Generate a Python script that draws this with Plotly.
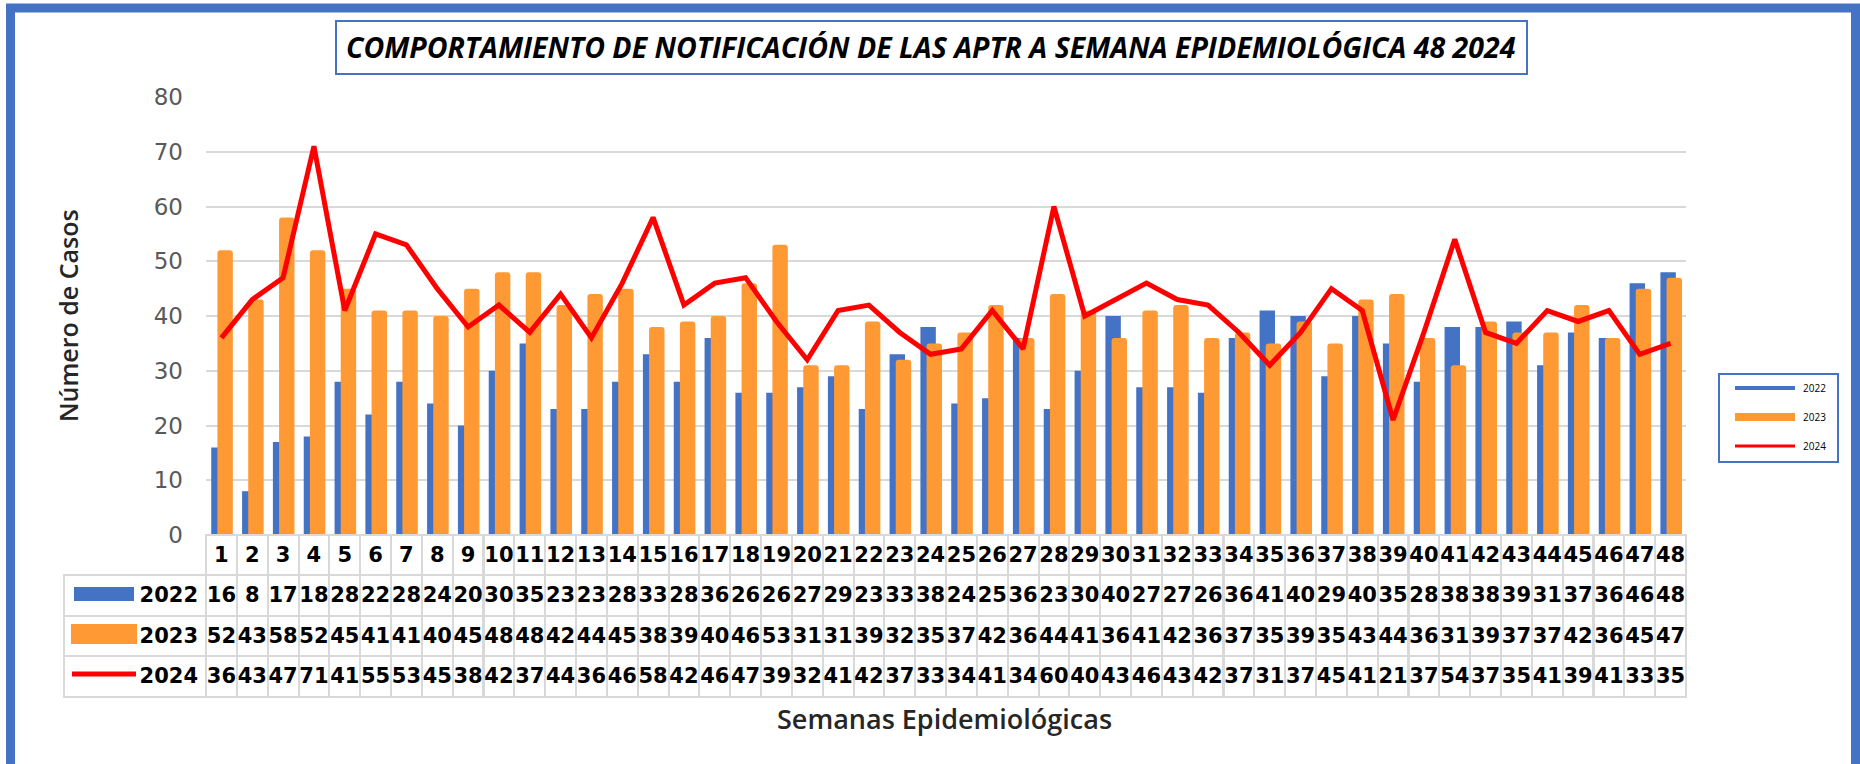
import plotly.graph_objects as go

weeks = list(range(1, 49))
cases_2022 = [16, 8, 17, 18, 28, 22, 28, 24, 20, 30, 35, 23, 23, 28, 33, 28, 36, 26, 26, 27,
              29, 23, 33, 38, 24, 25, 36, 23, 30, 40, 27, 27, 26, 36, 41, 40, 29, 40, 35, 28,
              38, 38, 39, 31, 37, 36, 46, 48]
cases_2023 = [52, 43, 58, 52, 45, 41, 41, 40, 45, 48, 48, 42, 44, 45, 38, 39, 40, 46, 53, 31,
              31, 39, 32, 35, 37, 42, 36, 44, 41, 36, 41, 42, 36, 37, 35, 39, 35, 43, 44, 36,
              31, 39, 37, 37, 42, 36, 45, 47]
cases_2024 = [36, 43, 47, 71, 41, 55, 53, 45, 38, 42, 37, 44, 36, 46, 58, 42, 46, 47, 39, 32,
              41, 42, 37, 33, 34, 41, 34, 60, 40, 43, 46, 43, 42, 37, 31, 37, 45, 41, 21, 37,
              54, 37, 35, 41, 39, 41, 33, 35]
series_names = ["2022", "2023", "2024"]
title_text = "COMPORTAMIENTO DE NOTIFICACIÓN DE LAS APTR A SEMANA EPIDEMIOLÓGICA 48 2024"
y_title = "Número de Casos"
x_title = "Semanas Epidemiológicas"

W, H = 1860, 764
BLUE = "#4472C4"
ORANGE = "#FF9933"
RED = "#FF0000"
GRID = "#D9D9D9"
CLEAR = "rgba(0,0,0,0)"


def px(x):
    return x / W


def py(y):
    return 1 - y / H


PL, PR = 206, 1686          # plot area x (pixels)
PT, PB = 97, 535            # y=80 and y=0 (pixels)
TL, TB = 64, 695            # table left / bottom

fig = go.Figure()

fig.add_trace(go.Bar(x=weeks, y=cases_2022, name=series_names[0], marker=dict(color=BLUE, line=dict(width=0)),
                     width=0.5, offset=-0.33, showlegend=False))
fig.add_trace(go.Bar(x=weeks, y=cases_2023, name=series_names[1],
                     marker=dict(color=ORANGE, line=dict(width=0), cornerradius=3),
                     width=0.5, offset=-0.13, showlegend=False))
fig.add_trace(go.Scatter(x=weeks, y=cases_2024, name=series_names[2], mode="lines",
                         line=dict(color=RED, width=5), showlegend=False))

# data table below the chart
ncol = len(weeks)
colw = (PR - PL) / ncol
header_vals = [""] + [f"<b>{w}</b>" for w in weeks]
cell_vals = [[f"<b>{n}</b>" for n in series_names]]
for i in range(ncol):
    cell_vals.append([f"<b>{cases_2022[i]}</b>", f"<b>{cases_2023[i]}</b>", f"<b>{cases_2024[i]}</b>"])

fig.add_trace(go.Table(
    domain=dict(x=[px(TL), px(PR)], y=[py(TB + 4), py(PB)]),
    columnwidth=[PL - TL] + [colw] * ncol,
    header=dict(values=header_vals, height=38,
                fill=dict(color=[CLEAR] + ["white"] * ncol),
                line=dict(color=[CLEAR] + [GRID] * ncol, width=2),
                align=["right"] + ["center"] * ncol,
                font=dict(family="DejaVu Sans", size=21, color="black")),
    cells=dict(values=cell_vals, height=40.5,
               fill=dict(color="white"),
               line=dict(color=GRID, width=2),
               align=["right"] + ["center"] * ncol,
               font=dict(family="DejaVu Sans", size=21, color="black")),
))

shapes = []
# outer frame
shapes.append(dict(type="rect", xref="paper", yref="paper", x0=px(10.5), x1=px(1855.5), y0=py(790), y1=py(8),
                   line=dict(color=BLUE, width=9), fillcolor=CLEAR, layer="above"))
# title box
shapes.append(dict(type="rect", xref="paper", yref="paper", x0=px(336), x1=px(1527), y0=py(74), y1=py(21),
                   line=dict(color=BLUE, width=2), layer="above"))
# legend box
shapes.append(dict(type="rect", xref="paper", yref="paper", x0=px(1719), x1=px(1838), y0=py(462), y1=py(374),
                   line=dict(color=BLUE, width=2), layer="above"))
legend_keys = [(BLUE, 4, 388), (ORANGE, 8, 417), (RED, 3, 446)]
for col, wd, yy in legend_keys:
    shapes.append(dict(type="line", xref="paper", yref="paper", x0=px(1735), x1=px(1795), y0=py(yy), y1=py(yy),
                       line=dict(color=col, width=wd), layer="above"))
# table keys
shapes.append(dict(type="rect", xref="paper", yref="paper", x0=px(74), x1=px(134), y0=py(601), y1=py(587),
                   fillcolor=BLUE, line=dict(width=0), layer="above"))
shapes.append(dict(type="rect", xref="paper", yref="paper", x0=px(71), x1=px(137), y0=py(644), y1=py(624),
                   fillcolor=ORANGE, line=dict(width=0), layer="above"))
shapes.append(dict(type="line", xref="paper", yref="paper", x0=px(72), x1=px(136), y0=py(674), y1=py(674),
                   line=dict(color=RED, width=5), layer="above"))

annotations = [
    dict(text=f"<b><i>{title_text}</i></b>", x=px(931), y=py(47), xref="paper", yref="paper",
         showarrow=False, font=dict(family="Open Sans", size=28.5, color="black"), xanchor="center", yanchor="middle"),
    dict(text=y_title, x=px(68), y=py(316), xref="paper", yref="paper", textangle=-90,
         showarrow=False, font=dict(family="Open Sans", size=25, color="#262626", weight=600),
         xanchor="center", yanchor="middle"),
    dict(text=x_title, x=px(944), y=py(718), xref="paper", yref="paper",
         showarrow=False, font=dict(family="Open Sans", size=27, color="#262626", weight=600),
         xanchor="center", yanchor="middle"),
]
for name, (_, _, yy) in zip(series_names, legend_keys):
    annotations.append(dict(text=name, x=px(1801), y=py(yy), xref="paper", yref="paper", showarrow=False,
                            font=dict(family="Open Sans", size=10, color="black"),
                            xanchor="left", yanchor="middle"))

fig.update_layout(
    width=W, height=H, autosize=False,
    margin=dict(l=0, r=0, t=0, b=0, pad=0, autoexpand=False),
    paper_bgcolor="white", plot_bgcolor="white",
    barmode="overlay",
    showlegend=False,
    xaxis=dict(domain=[px(PL), px(PR)], range=[0.5, 48.5], showticklabels=False, showgrid=False,
               zeroline=False, showline=False, ticks="", automargin=False),
    yaxis=dict(domain=[py(PB), py(PT)], range=[0, 80], dtick=10, showgrid=True, gridcolor=GRID, gridwidth=2,
               zeroline=False, showline=False, ticks="", ticklabelstandoff=22, automargin=False,
               tickfont=dict(family="DejaVu Sans", size=23, color="#595959")),
    shapes=shapes,
    annotations=annotations,
)

fig.write_html("out.html", config={"displayModeBar": False},
               post_script="document.body.style.margin='0';document.body.style.overflow='hidden';")
